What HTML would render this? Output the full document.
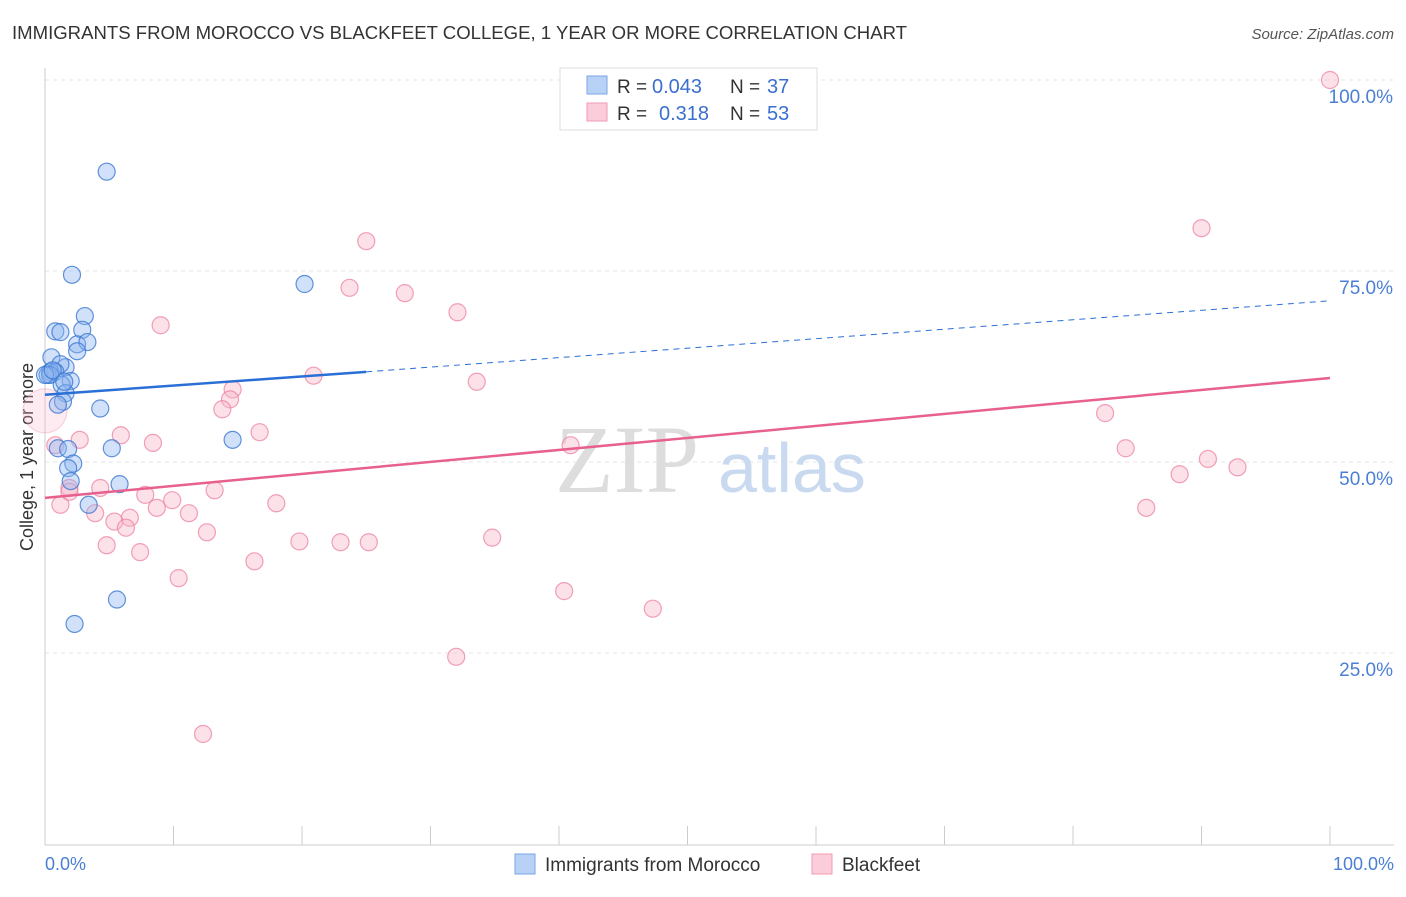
<!DOCTYPE html>
<html><head><meta charset="utf-8"><style>
body{margin:0;background:#fff;font-family:"Liberation Sans",sans-serif}
</style></head><body>
<svg width="1406" height="892" xmlns="http://www.w3.org/2000/svg" font-family="Liberation Sans, sans-serif">
<text x="12" y="39" font-size="18" fill="#333" textLength="895" lengthAdjust="spacingAndGlyphs">IMMIGRANTS FROM MOROCCO VS BLACKFEET COLLEGE, 1 YEAR OR MORE CORRELATION CHART</text>
<text x="1394" y="39" font-size="15" fill="#555" text-anchor="end" font-style="italic">Source: ZipAtlas.com</text>
<g id="grid"></g>
<text x="555" y="492" font-size="96" fill="#ddd" font-family="Liberation Serif, serif">ZIP</text>
<text x="718" y="492" font-size="70" fill="#c9daf0">atlas</text>
<line x1="45" y1="68" x2="45" y2="845" stroke="#ccc"/>
<line x1="45" y1="845" x2="1394" y2="845" stroke="#ccc"/>
<text x="33" y="457" font-size="18" fill="#333" text-anchor="middle" transform="rotate(-90 33 457)">College, 1 year or more</text>
<text x="45" y="870" font-size="18" fill="#4a7fd4">0.0%</text>
<text x="1394" y="870" font-size="18" fill="#4a7fd4" text-anchor="end">100.0%</text>
<g id="pts"></g>
<g id="lines"></g>
<g>
<rect x="560" y="68" width="257" height="62" fill="#fff" stroke="#ddd"/>
<rect x="587" y="76" width="20" height="18" fill="#b8d2f5" stroke="#7aa6e6"/>
<rect x="587" y="103" width="20" height="18" fill="#fbcddb" stroke="#f09ab3"/>
<text x="617" y="93" font-size="19" fill="#333">R =</text>
<text x="652" y="93" font-size="20" fill="#3a6fd0">0.043</text>
<text x="730" y="93" font-size="19" fill="#333">N =</text>
<text x="767" y="93" font-size="20" fill="#3a6fd0">37</text>
<text x="617" y="120" font-size="19" fill="#333">R =</text>
<text x="659" y="120" font-size="20" fill="#3a6fd0">0.318</text>
<text x="730" y="120" font-size="19" fill="#333">N =</text>
<text x="767" y="120" font-size="20" fill="#3a6fd0">53</text>
</g>
<g>
<rect x="515" y="854" width="20" height="20" fill="#b8d2f5" stroke="#7aa6e6"/>
<text x="545" y="871" font-size="19" fill="#333">Immigrants from Morocco</text>
<rect x="812" y="854" width="20" height="20" fill="#fbcddb" stroke="#f09ab3"/>
<text x="842" y="871" font-size="19" fill="#333">Blackfeet</text>
</g>
</svg>
<script>
const yTicks=[25,50,75,100];
const yTickLabels=["25.0%","50.0%","75.0%","100.0%"];
const blueX=[4.8,2.1,20.2,3.1,0.8,1.2,2.9,2.5,3.3,2.5,0.5,1.6,1.2,0.4,0.8,0.2,2.0,1.3,1.6,1.4,1.0,4.3,1.0,1.8,5.2,14.6,2.2,1.8,2.0,5.8,3.4,5.6,2.3,0.4,0.0,0.6,1.5];
const blueY=[88.0,74.5,73.3,69.1,67.1,67.0,67.3,65.4,65.7,64.5,63.7,62.4,62.8,61.8,61.8,61.4,60.6,60.1,59.0,57.9,57.5,57.0,51.8,51.7,51.8,52.9,49.8,49.2,47.5,47.1,44.4,32.0,28.8,61.4,61.4,62.0,60.5];
const pinkX=[100,25.0,90.0,23.7,28.0,32.1,9.0,20.9,33.6,14.6,14.4,13.8,82.5,16.7,5.9,2.7,8.4,0.8,40.9,84.1,90.5,92.8,88.3,1.9,4.3,13.2,7.8,9.9,18.0,1.2,8.7,3.9,11.2,6.6,5.4,6.3,12.6,34.8,19.8,23.0,25.2,4.8,7.4,16.3,10.4,40.4,47.3,85.7,32.0,12.3,0.0,1.9];
const pinkY=[100,78.9,80.6,72.8,72.1,69.6,67.9,61.3,60.5,59.5,58.2,56.9,56.4,53.9,53.5,52.9,52.5,52.2,52.2,51.8,50.4,49.3,48.4,46.6,46.6,46.3,45.7,45.0,44.6,44.4,44.0,43.3,43.3,42.7,42.2,41.4,40.8,40.1,39.6,39.5,39.5,39.1,38.2,37.0,34.8,33.1,30.8,44.0,24.5,14.4,56.7,46.1];
const blueFit=[58.8,0,25,61.8,100,71.1];
const pinkFit=[45.3,100,61.0];
const NS='http://www.w3.org/2000/svg';
const X=v=>45+v*12.85, Y=v=>844-v*7.64;
const grid=document.getElementById('grid');
yTicks.forEach((t,i)=>{
 const l=document.createElementNS(NS,'line');
 l.setAttribute('x1',45);l.setAttribute('x2',1394);l.setAttribute('y1',Y(t));l.setAttribute('y2',Y(t));
 l.setAttribute('stroke','#e4e4e4');l.setAttribute('stroke-dasharray','4 4');
 
 
 grid.appendChild(l);
 const tx=document.createElementNS(NS,'text');
 tx.setAttribute('x',1393);tx.setAttribute('y',Y(t)+23);tx.setAttribute('font-size',19);
 tx.setAttribute('fill','#4a7fd4');tx.setAttribute('text-anchor','end');tx.textContent=yTickLabels[i];
 
 
 grid.appendChild(tx);
});
for(let i=1;i<=10;i++){
 const l=document.createElementNS(NS,'line');
 const x=45+i*128.5;
 l.setAttribute('x1',x);l.setAttribute('x2',x);l.setAttribute('y1',826);l.setAttribute('y2',845);l.setAttribute('stroke','#ccc');
 
 
 grid.appendChild(l);
}
const pts=document.getElementById('pts');
function dot(x,y,f,s,n,r){
 const c=document.createElementNS(NS,'circle');
 c.setAttribute('cx',X(x));c.setAttribute('cy',Y(y));c.setAttribute('r',r||8.5);
 c.setAttribute('fill',f);c.setAttribute('stroke',s);c.setAttribute('stroke-width',1.2);
 
 
 pts.appendChild(c);
}
pinkX.forEach((x,i)=>dot(x,pinkY[i],i==50?'rgba(248,190,210,0.3)':'rgba(248,180,200,0.4)',i==50?'rgba(236,130,160,0.3)':'rgba(236,130,160,0.75)','blackfeet-point',i==50?22:8.5));
blueX.forEach((x,i)=>dot(x,blueY[i],'rgba(140,180,240,0.4)','rgba(60,120,210,0.8)','morocco-point'));
const lines=document.getElementById('lines');
function ln(x1,y1,x2,y2,c,w,d,n){
 const l=document.createElementNS(NS,'line');
 l.setAttribute('x1',X(x1));l.setAttribute('y1',Y(y1));l.setAttribute('x2',X(x2));l.setAttribute('y2',Y(y2));
 l.setAttribute('stroke',c);l.setAttribute('stroke-width',w);if(d)l.setAttribute('stroke-dasharray',d);
 
 
 lines.appendChild(l);
}
ln(0,blueFit[0],blueFit[2],blueFit[3],'#2a6fd6',2.5,null,'morocco-trend');
ln(blueFit[2],blueFit[3],blueFit[4],blueFit[5],'#2a6fd6',1,'6 5','morocco-trend-extension');
ln(0,pinkFit[0],pinkFit[1],pinkFit[2],'#e8608e',2.5,null,'blackfeet-trend');
</script>
</body></html>
